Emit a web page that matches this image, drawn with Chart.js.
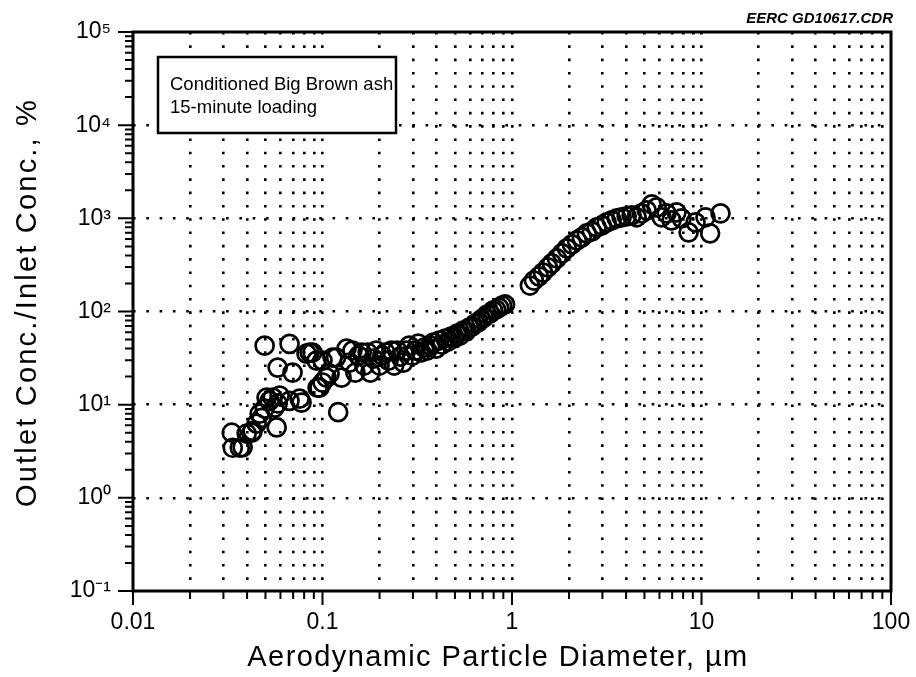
<!DOCTYPE html>
<html>
<head>
<meta charset="utf-8">
<script src="https://cdn.jsdelivr.net/npm/chart.js@4/dist/chart.umd.min.js"></script>
<style>
  html, body { margin: 0; padding: 0; background: #ffffff; }
  #wrap { width: 916px; height: 677px; position: relative; }
</style>
</head>
<body>
<div id="wrap"><canvas id="c" width="916" height="677"></canvas></div>
<script>
// ---- Data ----
// Aerodynamic particle diameter, µm
const diameterUm = [
  0.0332, 0.0336, 0.0366, 0.0379, 0.0398, 0.0423, 0.0428, 0.0449, 0.0466, 0.0477,
  0.0495, 0.0495, 0.0507, 0.0526, 0.0546, 0.0559, 0.0573, 0.058, 0.058, 0.0594,
  0.067, 0.067, 0.0695, 0.0757, 0.0775, 0.0824, 0.0855, 0.0886, 0.093, 0.0942,
  0.0964, 0.1, 0.1, 0.105, 0.109, 0.113, 0.118, 0.121, 0.126, 0.134,
  0.139, 0.144, 0.149, 0.155, 0.161, 0.166, 0.173, 0.179, 0.186, 0.192,
  0.200, 0.207, 0.215, 0.223, 0.231, 0.239, 0.248, 0.257, 0.267, 0.277,
  0.287, 0.298, 0.309, 0.320, 0.332, 0.344, 0.357, 0.370, 0.384, 0.398,
  0.413, 0.428, 0.444, 0.460, 0.477, 0.495, 0.513, 0.532, 0.552, 0.573,
  0.594, 0.616, 0.639, 0.662, 0.687, 0.712, 0.738, 0.766, 0.794, 0.824,
  0.854, 0.886, 0.919,
  1.243, 1.305, 1.387, 1.456, 1.546, 1.624, 1.725, 1.834, 1.947, 2.07,
  2.20, 2.335, 2.48, 2.64, 2.80, 2.98, 3.16, 3.36, 3.57, 3.79,
  4.03, 4.28, 4.55, 4.83, 5.14, 5.46, 5.80, 6.16, 6.54, 6.95,
  7.38, 7.85, 8.55, 9.30, 10.5, 11.1, 12.6
];
// Outlet Conc./Inlet Conc., %
const outletInletPct = [
  5.0, 3.45, 3.45, 3.5, 4.9, 5.0, 5.25, 6.25, 8.0, 7.2,
  9.1, 43, 11.9, 11, 11.9, 9.3, 5.7, 25, 10.3, 12.5,
  45, 11, 22.1, 11.6, 10.5, 35.3, 36.3, 36.3, 29.7, 15.2,
  15.2, 17.3, 29.7, 19.5, 21.5, 32, 32, 8.3, 19.5, 40,
  28.3, 38.1, 22.1, 33.6, 36.3, 26.3, 36.3, 22.1, 31.2, 38.1,
  26.3, 33.6, 36.3, 29.7, 38.1, 26.3, 38.1, 32.8, 28.3, 38.1,
  43, 33.6, 38.1, 45.3, 36.3, 41, 38.1, 43, 46.4, 40,
  48.8, 44.2, 51.3, 47.6, 53.8, 51.3, 58, 55.2, 62.5, 61,
  67.3, 69, 74.3, 76.1, 82, 86.2, 92.8, 95.2, 102.5, 105,
  110, 116, 119,
  190, 215, 238, 262, 297, 328, 371, 421, 476, 525,
  580, 625, 690, 725, 800, 841, 906, 951, 1000, 1026,
  1052, 1077, 1026, 1132, 1219, 1415, 1313, 1026, 1132, 951,
  1160, 1000, 707, 906, 1026, 690, 1132
];

// Axis ticks and labels
const xMajorTicks = [0.01, 0.1, 1, 10, 100];
const xMajorLabels = ['0.01', '0.1', '1', '10', '100'];
const yMajorTicks = [0.1, 1, 10, 100, 1000, 10000, 100000];
const yMajorLabels = ['10\u207B\u00B9', '10\u2070', '10\u00B9', '10\u00B2', '10\u00B3', '10\u2074', '10\u2075'];

const xTitle = 'Aerodynamic Particle Diameter, \u00B5m';
const yTitle = 'Outlet Conc./Inlet Conc., %';
const boxLines = ['Conditioned Big Brown ash', '15-minute loading'];
const fileTag = 'EERC GD10617.CDR';

const FONT = '"Liberation Sans", Arial, Helvetica, sans-serif';

function minorsOf(majors) {
  const out = [];
  for (let i = 0; i < majors.length - 1; i++) {
    for (let m = 2; m <= 9; m++) out.push(majors[i] * m);
  }
  return out;
}
const xMinorTicks = minorsOf(xMajorTicks);
const yMinorTicks = minorsOf(yMajorTicks);
const xAllTicks = xMajorTicks.concat(xMinorTicks).sort((a, b) => a - b);

const points = diameterUm.map((d, i) => ({ x: d, y: outletInletPct[i] }));

// widen axis-title lettering like the reference
const titleSpacingPlugin = {
  id: 'titleSpacing',
  beforeDraw(chart) {
    ['x', 'y'].forEach(id => {
      const s = chart.scales[id];
      if (!s || s._wrappedTitle) return;
      const orig = s.drawTitle;
      s.drawTitle = function () {
        const ctx = this.ctx;
        ctx.save();
        try { ctx.letterSpacing = id === 'x' ? '1.4px' : '2.2px'; } catch (e) {}
        if (id === 'x') ctx.translate(-14, 0); else ctx.translate(0, -9);
        orig.apply(this, arguments);
        ctx.restore();
      };
      s._wrappedTitle = true;
    });
  }
};

const decorPlugin = {
  id: 'decor',
  afterDatasetsDraw(chart) {
    const ctx = chart.ctx;
    const a = chart.chartArea;
    const xs = chart.scales.x, ys = chart.scales.y;
    ctx.save();
    // note box
    ctx.fillStyle = '#ffffff';
    ctx.fillRect(158, 57, 238, 76);
    ctx.strokeStyle = '#000';
    ctx.lineWidth = 2.5;
    ctx.strokeRect(158, 57, 238, 76);
    ctx.fillStyle = '#000';
    ctx.font = '18.5px ' + FONT;
    ctx.textBaseline = 'alphabetic';
    ctx.textAlign = 'left';
    ctx.fillText(boxLines[0], 170, 90);
    ctx.fillText(boxLines[1], 170, 113);

    // frame
    ctx.lineWidth = 3;
    ctx.strokeRect(a.left, a.top, a.right - a.left, a.bottom - a.top);

    // tick marks
    ctx.lineWidth = 2;
    ctx.beginPath();
    xMajorTicks.forEach(v => {
      const p = xs.getPixelForValue(v);
      ctx.moveTo(p, a.bottom); ctx.lineTo(p, a.bottom + 14);
    });
    xMinorTicks.forEach(v => {
      const p = xs.getPixelForValue(v);
      ctx.moveTo(p, a.bottom); ctx.lineTo(p, a.bottom + 8);
    });
    yMajorTicks.forEach(v => {
      const p = ys.getPixelForValue(v);
      ctx.moveTo(a.left, p); ctx.lineTo(a.left - 15, p);
    });
    yMinorTicks.forEach(v => {
      const p = ys.getPixelForValue(v);
      ctx.moveTo(a.left, p); ctx.lineTo(a.left - 8, p);
    });
    ctx.stroke();

    // file tag
    ctx.font = 'italic bold 15px ' + FONT;
    ctx.textAlign = 'right';
    ctx.fillText(fileTag, 893, 23);
    ctx.restore();
  }
};

new Chart(document.getElementById('c'), {
  type: 'scatter',
  data: {
    datasets: [{
      label: 'Outlet/Inlet',
      data: points,
      showLine: false,
      pointStyle: 'circle',
      pointRadius: 9,
      pointHoverRadius: 9,
      borderColor: '#000',
      backgroundColor: 'rgba(0,0,0,0)',
      borderWidth: 2.7
    }]
  },
  options: {
    responsive: false,
    animation: false,
    events: [],
    layout: { padding: { left: 0, right: 25, top: 32, bottom: 0 } },
    plugins: { legend: { display: false }, tooltip: { enabled: false }, title: { display: false } },
    scales: {
      x: {
        type: 'logarithmic',
        min: 0.01, max: 100,
        afterBuildTicks: s => { s.ticks = xAllTicks.map(v => ({ value: v })); },
        afterFit: s => { s.height = 86; s.paddingLeft = 0; s.paddingRight = 0; },
        grid: {
          drawTicks: false,
          lineWidth: 2.6,
          color: c => (c.tick && (c.tick.value <= 0.01 || c.tick.value >= 100)) ? 'rgba(0,0,0,0)' : '#000'
        },
        border: { display: false, dash: [2.6, 10.7] },
        ticks: {
          autoSkip: false, maxRotation: 0, padding: 18,
          color: '#000',
          font: { family: FONT, size: 23 },
          callback: v => { const i = xMajorTicks.findIndex(t => Math.abs(t - v) / t < 1e-6); return i >= 0 ? xMajorLabels[i] : ''; }
        },
        title: {
          display: true, text: xTitle, color: '#000',
          font: { family: FONT, size: 29 },
          padding: { top: 0, bottom: 2 }
        }
      },
      y: {
        type: 'logarithmic',
        min: 0.1, max: 100000,
        afterBuildTicks: s => { s.ticks = yMajorTicks.map(v => ({ value: v })); },
        afterFit: s => { s.width = 133; s.paddingTop = 0; s.paddingBottom = 0; },
        grid: {
          drawTicks: false,
          lineWidth: 2.6,
          color: c => (c.tick && (c.tick.value <= 0.1 || c.tick.value >= 100000)) ? 'rgba(0,0,0,0)' : '#000'
        },
        border: { display: false, dash: [2.6, 10.7] },
        ticks: {
          autoSkip: false, padding: 22,
          color: '#000',
          font: { family: FONT, size: 23 },
          callback: v => { const i = yMajorTicks.findIndex(t => Math.abs(t - v) / t < 1e-6); return i >= 0 ? yMajorLabels[i] : ''; }
        },
        title: {
          display: true, text: yTitle, color: '#000',
          font: { family: FONT, size: 29 },
          padding: { top: 11, bottom: 0 }
        }
      }
    }
  },
  plugins: [titleSpacingPlugin, decorPlugin]
});
</script>
</body>
</html>
